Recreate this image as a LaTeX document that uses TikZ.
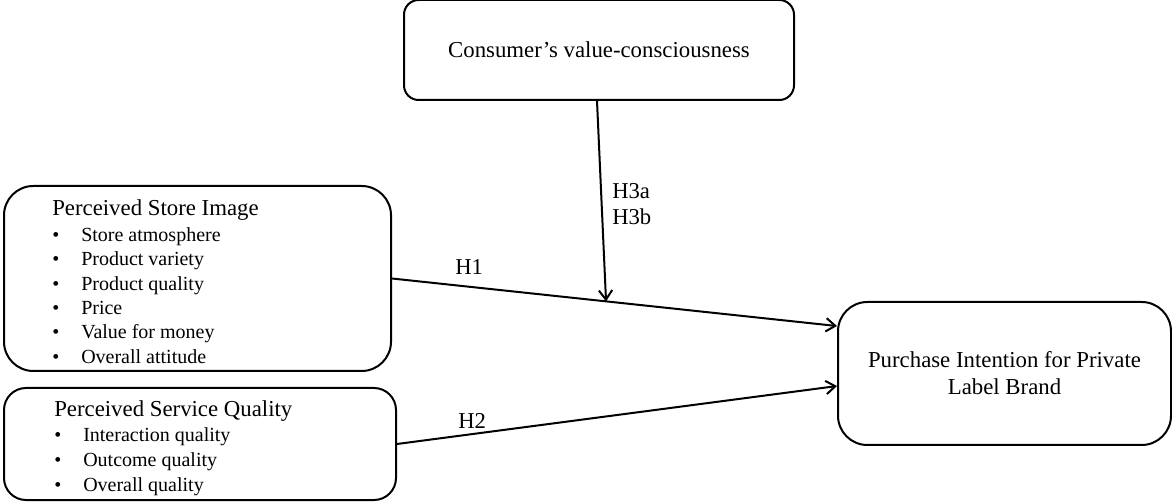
\documentclass[tikz,border=0pt]{standalone}
\usepackage{fontspec}
\setmainfont{Liberation Serif}
\usetikzlibrary{arrows.meta}
\begin{document}
\begin{tikzpicture}[
    x=0.75pt, y=-0.75pt,
    box/.style={draw, line width=1.5pt, rounded corners=22pt, align=center, inner sep=0pt},
    arrow/.style={-{Straight Barb[length=7pt,width=10pt]}, line width=1.5pt},
    big/.style={font=\fontsize{17.1}{20.3}\selectfont},
    item/.style={anchor=base west, inner sep=0pt, font=\fontsize{15}{18}\selectfont},
    hlabel/.style={anchor=base west, inner sep=0pt, font=\fontsize{17}{20}\selectfont}
]
    \useasboundingbox (0,0) rectangle (1172,502);

    % Boxes
    \node[box, big, rounded corners=11pt, minimum width=292.5pt, minimum height=75pt] (value) at (599,50) {Consumer's value-consciousness};
    \node[box, minimum width=290.25pt, minimum height=138.75pt] (store) at (197.5,278.5) {};
    \node[box, rounded corners=16.5pt, minimum width=294pt, minimum height=84pt] (service) at (200,444) {};
    \node[box, big, minimum width=249.75pt, minimum height=107.25pt] (purchase) at (1004.5,373.5) {Purchase Intention for Private\\Label Brand};

    % Store image contents
    \node[item, big] (storetitle) at (52,216) {Perceived Store Image};
    \foreach \txt [count=\i] in {Store atmosphere, Product variety, Product quality, Price, Value for money, Overall attitude} {
        \node[item] (sb\i) at (52,217+24.4*\i) {\textbullet};
        \node[item] (si\i) at (81,217+24.4*\i) {\txt};
    }

    % Service quality contents
    \node[item, big] (servtitle) at (54,416.7) {Perceived Service Quality};
    \foreach \txt [count=\i] in {Interaction quality, Outcome quality, Overall quality} {
        \node[item] (qb\i) at (54,416.7+25*\i) {\textbullet};
        \node[item] (qi\i) at (83,416.7+25*\i) {\txt};
    }

    % Arrows
    \coordinate (h1end) at ([yshift=35.6pt]purchase.west);
    \coordinate (h2end) at ([yshift=-9.4pt]purchase.west);
    \draw[arrow] (store.east) -- (h1end) coordinate[pos=0.481] (mod);
    \draw[arrow] (service.east) -- (h2end);
    \draw[arrow] ([xshift=-1.5pt]value.south) -- (mod);

    % Labels
    \node[hlabel] (h1) at (455,275) {H1};
    \node[hlabel] (h2) at (458,429) {H2};
    \node[hlabel] (h3a) at (612,199) {H3a};
    \node[hlabel] (h3b) at (612,225) {H3b};
\end{tikzpicture}
\end{document}
